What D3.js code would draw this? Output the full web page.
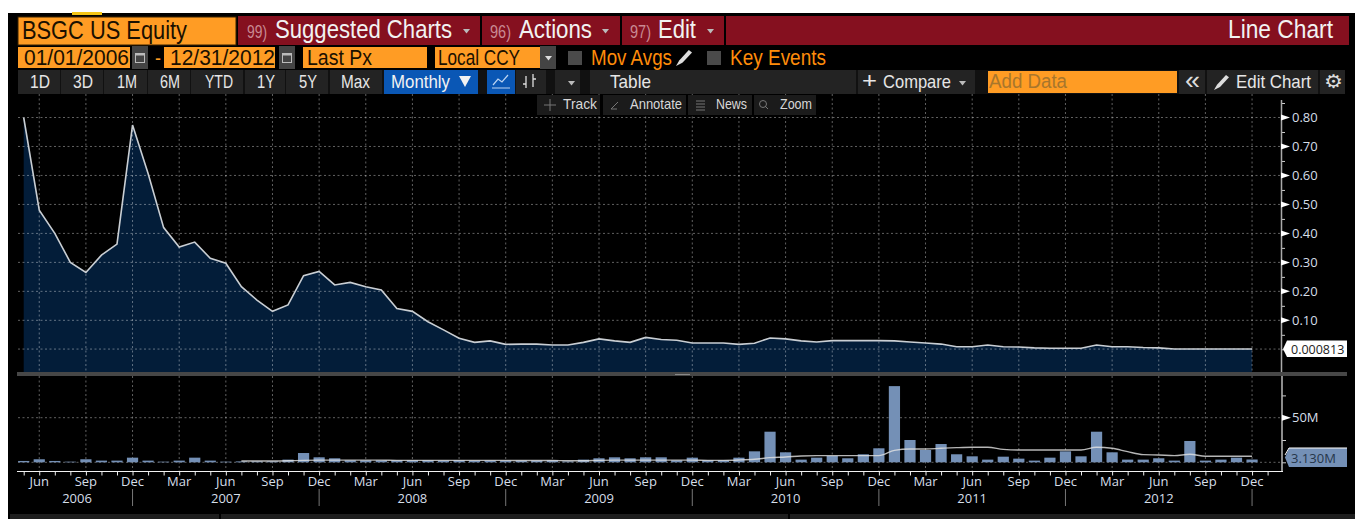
<!DOCTYPE html>
<html>
<head>
<meta charset="utf-8">
<script src="https://cdnjs.cloudflare.com/ajax/libs/d3/7.8.5/d3.min.js"></script>
<style>
  html, body { margin: 0; padding: 0; background: #fff; overflow: hidden; }
  svg { display: block; }
  text { font-family: "Liberation Sans", sans-serif; }
  .num { font-family: "Open Sans", "DejaVu Sans", sans-serif; font-size: 13px; fill: #d5dee8; }
  .grid { stroke: #fff; stroke-opacity: .38; stroke-dasharray: 2 2.5; stroke-width: 1; }
</style>
</head>
<body>
<svg width="1355" height="519"></svg>
<script>
// last price, monthly, May 2006 -> Dec 2012
var price = [
  0.80, 0.48, 0.40, 0.30, 0.265, 0.325, 0.363, 0.774,
  0.607, 0.42, 0.353, 0.37, 0.314, 0.297, 0.216, 0.17, 0.131, 0.153, 0.254, 0.269,
  0.222, 0.231, 0.216, 0.205, 0.141, 0.131, 0.095, 0.067, 0.038, 0.024, 0.029, 0.017,
  0.018, 0.018, 0.015, 0.015, 0.024, 0.036, 0.029, 0.024, 0.041, 0.034, 0.031, 0.022,
  0.022, 0.022, 0.017, 0.021, 0.039, 0.036, 0.029, 0.025, 0.03, 0.03, 0.03, 0.03,
  0.029, 0.025, 0.022, 0.018, 0.009, 0.009, 0.015, 0.009, 0.008, 0.005, 0.0035, 0.0035,
  0.0035, 0.015, 0.009, 0.009, 0.006, 0.005, 0.001, 0.001, 0.001, 0.001, 0.001, 0.000813
];

// volume in millions
var volume = [
  1.5, 3.4, 1.5, 0.7, 3.4, 1.9, 1.9, 5.2,
  1.9, 0.7, 1.9, 5.2, 1.9, 0.7, 1, 1, 1, 3, 10.4, 5.6,
  4.5, 2.2, 2.2, 2.2, 2.2, 2.2, 2.2, 1.9, 2.2, 1.9, 1.9, 1.9,
  1.9, 1.9, 2.2, 1, 3, 4.5, 5.6, 4.5, 5.6, 5.6, 2.2, 5.2,
  2.2, 2.2, 5.2, 12.3, 34.3, 11.2, 3, 5.2, 7.1, 4.5, 9, 15.7,
  85.4, 25, 13.8, 20.5, 9, 6.7, 3, 6.3, 4.1, 1.9, 5.2, 12.3,
  6.7, 34.3, 11.2, 3, 3, 4.5, 1.9, 23.9, 1.9, 3, 5.2, 3.13
];

// volume moving average, null until it starts in Jul 2007
var volumeAvg = [
  null, null, null, null, null, null, null, null,
  null, null, null, null, null, null, 1.5, 1.5, 1.5, 1.7, 2.2, 2.4,
  2.4, 2.4, 2.4, 2.4, 2.2, 2.2, 2.2, 2.2, 2.2, 2.2, 2.2, 2.2,
  2, 2, 2, 1.7, 1.7, 2.2, 2.4, 2.4, 2.4, 2.4, 2.4, 2.4,
  2.2, 2.2, 2.6, 3.4, 5.2, 6, 7.1, 7.5, 7.5, 7.5, 7.5, 7.5,
  13.4, 14.9, 14.9, 15.7, 16.4, 16.8, 16.8, 14.5, 13.8, 13.8, 13.8, 13.8,
  13.8, 16.8, 15.7, 11.9, 8.6, 8.2, 7.5, 9, 6.7, 6.7, 6.7, 6.7
];

var priceTicks = [0.10, 0.20, 0.30, 0.40, 0.50, 0.60, 0.70, 0.80];
var volumeTicks = [50];
var years = ["2006", "2007", "2008", "2009", "2010", "2011", "2012"];

var months = d3.timeMonth.range(new Date(2006, 4, 1), new Date(2013, 1, 1));
var monthKeys = months.map(function(d){ return +d });

var svg = d3.select("svg");
var fmtMonth = d3.timeFormat("%b");

var x = d3.scalePoint().domain(monthKeys).range([23.7, 1267.6]);
var y = d3.scaleLinear().domain([0, 0.8]).range([349.3, 117.5]);
var yVol = d3.scaleLinear().domain([0, 50]).range([462.3, 417.7]);

function xi(i){ return x(monthKeys[i]) }
var idx = d3.range(price.length);

// background
svg.append("rect").attr("x", 8).attr("y", 13).attr("width", 1347).attr("height", 506).attr("fill", "#000");
svg.append("rect").attr("x", 72).attr("y", 12).attr("width", 30).attr("height", 3).attr("fill", "#f5c518");

function box(x0, y0, x1, y1, col, stroke){
  return svg.append("rect").attr("x", x0).attr("y", y0).attr("width", x1 - x0).attr("height", y1 - y0)
    .attr("fill", col).attr("stroke", stroke || "none");
}
// no narrow font on the box, so the text gets squeezed to the reference width
function label(txt, px, py, size, col, width){
  return svg.append("text").attr("x", px).attr("y", py).attr("font-size", size)
    .attr("fill", col).attr("textLength", width).attr("lengthAdjust", "spacingAndGlyphs").text(txt);
}
function caret(px, py, col){
  svg.append("path").attr("d", "M" + px + " " + py + " h7 l-3.5 4.5 z").attr("fill", col || "#bbb");
}
function pencil(px, py, s){
  svg.append("path").attr("fill", "#ddd")
    .attr("d", "M" + px + " " + (py + s) + " l" + (s * .2) + " " + (-s * .35) + " l" + (s * .6) + " " + (-s * .65)
      + " l" + (s * .2) + " " + (s * .15) + " l" + (-s * .6) + " " + (s * .65) + " z");
}
function calendar(x0){
  box(x0, 46, x0 + 16, 69, "#444");
  box(x0 + 3.5, 53.5, 9, 9, "none", "#bbb").attr("width", 9).attr("height", 9);
  box(x0 + 3.5, 53.5, 9, 2, "#bbb").attr("width", 9).attr("height", 2);
}

var orange = "#ff9c24", red = "#85101f", btn = "#232323", blue = "#0a57b5", dark = "#1a1000";

// row 1
box(18, 17, 236, 45, orange, "#3a2300");
label("BSGC US Equity", 22, 39, 25, dark, 165);
box(238, 16, 480, 45, red);
box(482, 16, 620, 45, red);
box(622, 16, 724, 45, red);
box(726, 16, 1349, 45, red);
label("99)", 247, 38, 19, "#c98a93", 20);
label("Suggested Charts", 275, 38, 25, "#f2f2f2", 177);
caret(463, 29);
label("96)", 490, 38, 19, "#c98a93", 21);
label("Actions", 519, 38, 25, "#f2f2f2", 73);
caret(602, 29);
label("97)", 630, 38, 19, "#c98a93", 21);
label("Edit", 658, 38, 25, "#f2f2f2", 38);
caret(707, 29);
label("Line Chart", 1228, 38, 25, "#f2f2f2", 105);

// row 2
box(18, 47, 130, 68, orange);
label("01/01/2006", 24, 65, 22, dark, 105);
calendar(132);
label("-", 155, 65, 21, orange, 6);
box(164, 47, 275, 68, orange);
label("12/31/2012", 170, 65, 22, dark, 105);
calendar(279);
box(303, 47, 427, 68, orange);
label("Last Px", 307, 65, 22, dark, 65);
box(435, 47, 540, 68, orange);
label("Local CCY", 438, 65, 22, dark, 82);
box(540, 46, 556, 69, "#444");
caret(545, 56, "#ddd");
box(568, 51, 582, 65, "#4a4a4a");
label("Mov Avgs", 591, 65, 22, "#ff8c0a", 81);
pencil(676, 50, 16);
box(707, 51, 721, 65, "#4a4a4a");
label("Key Events", 730, 65, 22, "#ff8c0a", 96);

// row 3 toolbar
box(18, 70, 1345, 94, "#111");
[[18, 60, "1D", 30, 20], [61, 103, "3D", 73, 20], [104, 147, "1M", 117, 20], [148, 190, "6M", 160, 20],
 [191, 243, "YTD", 205, 28], [245, 285, "1Y", 257, 18], [286, 328, "5Y", 299, 18], [330, 382, "Max", 341, 29]].forEach(function(b){
  box(b[0], 70, b[1], 94, btn);
  label(b[2], b[3], 88, 19, "#e6e6e6", b[4]);
});
box(384, 70, 478, 94, blue);
label("Monthly", 391, 88, 19, "#f2f2f2", 59);
svg.append("path").attr("d", "M459 76 h12 l-6 11 z").attr("fill", "#f2f2f2");
box(487, 70, 515, 94, blue);
svg.append("path").attr("d", "M493 85 l5 -6 l4 3 l6 -7 M492 88 h18").attr("fill", "none").attr("stroke", "#bcd4f2").attr("stroke-width", 1.2);
box(516, 70, 546, 94, btn);
svg.append("path").attr("d", "M526 76 v12 M526 84 h-3 M533 74 v13 M533 79 h3").attr("fill", "none").attr("stroke", "#ddd").attr("stroke-width", 1.3);
box(555, 70, 580, 94, btn);
caret(568, 81);
box(590, 70, 856, 94, btn);
label("Table", 610, 88, 19, "#e6e6e6", 41);
box(858, 70, 975, 94, btn);
label("+", 862, 88, 22, "#e6e6e6", 15);
label("Compare", 883, 88, 19, "#e6e6e6", 68);
caret(959, 81);
box(988, 71, 1177, 93, orange);
label("Add Data", 989, 88, 20, "#a8762c", 78);
box(1179, 70, 1205, 94, btn);
label("«", 1185, 89, 26, "#ddd", 15);
box(1207, 70, 1318, 94, btn);
pencil(1214, 75, 15);
label("Edit Chart", 1236, 88, 19, "#e6e6e6", 75);
box(1320, 70, 1345, 94, btn);
label("⚙", 1324, 88, 19, "#ddd", 19).style("font-family", "DejaVu Sans");

// price panel
var area = d3.area().x(function(i){ return xi(i) }).y0(372).y1(function(i){ return y(price[i]) });
var line = d3.line().x(function(i){ return xi(i) }).y(function(i){ return y(price[i]) });

svg.append("path").datum(idx).attr("d", area).attr("fill", "#031d39");

// grid lines
var gridKeys = monthKeys.filter(function(d){ return new Date(d).getMonth() % 3 == 2 });
svg.append("g").selectAll("line").data(gridKeys).enter().append("line")
  .attr("class", "grid")
  .attr("x1", function(d){ return x(d) }).attr("x2", function(d){ return x(d) })
  .attr("y1", 94).attr("y2", 372);
svg.append("g").selectAll("line").data(priceTicks.concat([0.000813])).enter().append("line")
  .attr("class", "grid")
  .attr("x1", 18).attr("x2", 1281)
  .attr("y1", function(d){ return y(d) }).attr("y2", function(d){ return y(d) });

svg.append("path").datum(idx).attr("d", line).attr("fill", "none")
  .attr("stroke", "#c9ced3").attr("stroke-width", 1.6);

// floating tool strip
[[537, 600, "Track", 563, 34], [603, 686, "Annotate", 630, 52], [688, 752, "News", 716, 31], [754, 816, "Zoom", 780, 32]].forEach(function(b){
  box(b[0], 95, b[1], 115, "#1b1b1b");
  label(b[2], b[3], 109, 15, "#d8d8d8", b[4]);
});
svg.append("path").attr("fill", "none").attr("stroke", "#777")
  .attr("d", "M544 105 h12 M550 99 v12 M611 109 l7 -7 M611 109 h6 M696 101 h9 M696 104 h9 M696 107 h9 M696 110 h9 M768 109 l-3 -3");
svg.append("circle").attr("cx", 763).attr("cy", 104).attr("r", 3.5).attr("fill", "none").attr("stroke", "#777");

// price axis
var yAxis = d3.axisRight(y).tickValues(d3.range(0, 0.86, 0.05)).tickSize(4).tickFormat("");
var yg = svg.append("g").attr("transform", "translate(1281,0)").call(yAxis);
yg.select(".domain").remove();
yg.selectAll("line").attr("stroke", "#ccc");
svg.append("line").attr("x1", 1281.5).attr("x2", 1281.5).attr("y1", 100).attr("y2", 372).attr("stroke", "#aaa").attr("stroke-width", 1.5);
svg.append("g").selectAll("path").data(priceTicks).enter().append("path")
  .attr("d", function(d){ return "M1281 " + (y(d) - 3) + " l9 3 l-9 3 z" }).attr("fill", "#fff");
svg.append("g").selectAll("text").data(priceTicks).enter().append("text")
  .attr("class", "num").attr("x", 1292).attr("y", function(d){ return y(d) + 4.5 })
  .text(function(d){ return d.toFixed(2) });

// last price tag
svg.append("path").attr("d", "M1287 340.5 H1347 V357 H1287 L1283 349 z").attr("fill", "#fff");
svg.append("text").attr("class", "num").attr("x", 1291).attr("y", 353.5).style("fill", "#222").style("font-size", "12.5px").text("0.000813");

// panel divider
box(17, 372, 1347, 376, "#474747");
box(675, 374, 690, 375, "#888");

// volume panel
svg.append("g").selectAll("line").data(gridKeys).enter().append("line")
  .attr("class", "grid")
  .attr("x1", function(d){ return x(d) }).attr("x2", function(d){ return x(d) })
  .attr("y1", 376).attr("y2", 471);
svg.append("g").selectAll("line").data([0, 50]).enter().append("line")
  .attr("class", "grid")
  .attr("x1", 18).attr("x2", 1281)
  .attr("y1", function(d){ return yVol(d) }).attr("y2", function(d){ return yVol(d) });

svg.append("g").selectAll("rect").data(idx).enter().append("rect")
  .attr("x", function(i){ return xi(i) - 5.6 })
  .attr("width", 11.2)
  .attr("y", function(i){ return yVol(volume[i]) })
  .attr("height", function(i){ return yVol(0) - yVol(volume[i]) })
  .attr("fill", "#7490b6");

var avgLine = d3.line()
  .defined(function(i){ return volumeAvg[i] != null })
  .x(function(i){ return xi(i) }).y(function(i){ return yVol(volumeAvg[i]) })
  .curve(d3.curveMonotoneX);
svg.append("path").datum(idx).attr("d", avgLine).attr("fill", "none")
  .attr("stroke", "#e4e4e4").attr("stroke-opacity", .8).attr("stroke-width", 1.4);

// volume axis
var vAxis = d3.axisRight(yVol).tickValues([0, 25, 50, 75]).tickSize(4).tickFormat("");
var vg = svg.append("g").attr("transform", "translate(1282,0)").call(vAxis);
vg.select(".domain").remove();
vg.selectAll("line").attr("stroke", "#ccc");
svg.append("line").attr("x1", 1282).attr("x2", 1282).attr("y1", 376).attr("y2", 471).attr("stroke", "#bbb").attr("stroke-width", 1.5);
svg.append("g").selectAll("path").data(volumeTicks).enter().append("path")
  .attr("d", function(d){ return "M1282 " + (yVol(d) - 3) + " l9 3 l-9 3 z" }).attr("fill", "#fff");
svg.append("g").selectAll("text").data(volumeTicks).enter().append("text")
  .attr("class", "num").attr("x", 1292).attr("y", function(d){ return yVol(d) + 4.5 })
  .text(function(d){ return d + "M" });

// last volume tag
svg.append("path").attr("d", "M1289 448 H1347 V467 H1289 L1285 457.5 z").attr("fill", "#7490b6");
svg.append("path").attr("d", "M1285 455 L1289 448 H1347").attr("fill", "none").attr("stroke", "#fff");
svg.append("text").attr("class", "num").attr("x", 1291).attr("y", 462.5).style("fill", "#26364a").text("3.130M");

// time axis
var xAxis = d3.axisBottom(x).tickValues(monthKeys).tickSize(4).tickFormat("");
var xg = svg.append("g").attr("transform", "translate(0,471.5)").call(xAxis);
xg.select(".domain").remove();
xg.selectAll("line").attr("stroke", "#eee");
svg.append("line").attr("x1", 17).attr("x2", 1283).attr("y1", 471.5).attr("y2", 471.5).attr("stroke", "#f2f2f2").attr("stroke-width", 1.2);

svg.append("g").selectAll("text").data(gridKeys.filter(function(d){ return d < +new Date(2013, 0, 1) })).enter().append("text")
  .attr("class", "num").attr("text-anchor", "middle")
  .attr("x", function(d){ return x(d) }).attr("y", 486)
  .text(function(d){ return fmtMonth(new Date(d)) });

// year labels, each sits on June except the short first year
svg.append("g").selectAll("text").data(years).enter().append("text")
  .attr("class", "num").attr("text-anchor", "middle")
  .attr("x", function(d){ return d == "2006" ? 77 : x(+new Date(+d, 5, 1)) })
  .attr("y", 503)
  .text(function(d){ return d });

svg.append("g").selectAll("line").data(years).enter().append("line")
  .attr("x1", function(d){ return x(+new Date(+d, 11, 1)) })
  .attr("x2", function(d){ return x(+new Date(+d, 11, 1)) })
  .attr("y1", 489).attr("y2", 506).attr("stroke", "#777");

// bottom strip
box(10, 514, 219, 519, "#1e1e1e");
box(221, 514, 788, 519, "#1e1e1e");
box(790, 514, 1355, 519, "#1e1e1e");
</script>
</body>
</html>
